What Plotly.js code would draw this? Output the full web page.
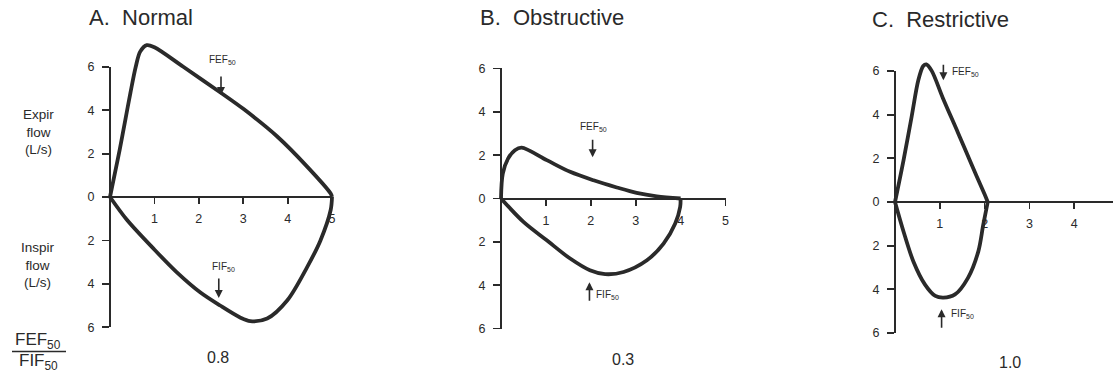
<!DOCTYPE html>
<html>
<head>
<meta charset="utf-8">
<script src="https://cdn.plot.ly/plotly-3.0.1.min.js"></script>
<style>
  html, body { margin: 0; padding: 0; background: #ffffff; }
  #chart { width: 1113px; height: 372px; }
</style>
</head>
<body>
<div id="chart"></div>
<script>
// ---------------- DATA (volume in L, flow in L/s) ----------------
// A. Normal
const normalExpVol   = [0, 0.1, 0.22, 0.34, 0.46, 0.58, 0.68, 0.83, 1.0, 1.65, 2.52, 3.01, 3.76, 4.44, 4.97, 5.0];
const normalExpFlow  = [0, 1.0, 2.2, 3.5, 4.8, 6.0, 6.7, 7.0, 6.9, 6.0, 4.77, 4.05, 2.8, 1.4, 0.16, 0];
const normalInspVol  = [0, 0.38, 0.98, 1.5, 2.03, 2.48, 2.93, 3.16, 3.54, 3.99, 4.44, 4.74, 4.97, 5.0];
const normalInspFlow = [0, 1.05, 2.38, 3.46, 4.39, 5.0, 5.55, 5.72, 5.6, 4.77, 3.23, 2.0, 0.6, 0];
// B. Obstructive
const obstrExpVol    = [0, 0.04, 0.16, 0.31, 0.46, 1.02, 1.54, 2.06, 2.58, 3.02, 3.47, 4.0];
const obstrExpFlow   = [0, 1.15, 1.85, 2.23, 2.35, 1.77, 1.23, 0.84, 0.51, 0.26, 0.1, 0];
const obstrInspVol   = [0, 0.5, 1.02, 1.54, 1.98, 2.32, 2.73, 3.25, 3.62, 3.88, 3.99, 4.0];
const obstrInspFlow  = [0, 1.08, 1.93, 2.77, 3.31, 3.49, 3.39, 2.85, 2.08, 1.15, 0.39, 0];
// C. Restrictive
const restrExpVol    = [0, 0.19, 0.37, 0.52, 0.63, 0.7, 0.82, 1.07, 1.41, 1.7, 2.0, 2.07];
const restrExpFlow   = [0, 1.91, 3.89, 5.57, 6.22, 6.3, 6.0, 4.75, 3.15, 1.76, 0.35, 0];
const restrInspVol   = [0, 0.19, 0.41, 0.67, 0.9, 1.08, 1.34, 1.63, 1.86, 1.97, 2.07];
const restrInspFlow  = [0, 1.35, 2.72, 3.78, 4.3, 4.38, 4.23, 3.47, 2.26, 1.04, 0];

// FEF50 / FIF50 markers: [volume, flow]
const fef50 = { A: [2.5, 4.7],  B: [2.04, 1.9], C: [1.08, 5.57] };
const fif50 = { A: [2.45, 4.65], B: [1.97, 3.86], C: [1.04, 4.91] };

const panelTitles = ['A.\u00a0\u00a0Normal', 'B.\u00a0\u00a0Obstructive', 'C.\u00a0\u00a0Restrictive'];
const ratioValues = ['0.8', '0.3', '1.0'];
const yTickVals  = [-6, -4, -2, 0, 2, 4, 6];
const yTickText  = ['6', '4', '2', '0', '2', '4', '6'];
const xTickVals  = [1, 2, 3, 4, 5];

// ---------------- LAYOUT HELPERS ----------------
const W = 1113, H = 372;
const INK = '#2a2a2a';
const FONT = 'Liberation Sans, Arial, Helvetica, sans-serif';
const neg = a => a.map(v => -v);
const px = x => x / W;
const py = y => 1 - y / H;

// panel geometry in pixels: origin, px per unit, visible x max
const geo = [
  { ox: 110, oy: 197,   sx: 44.4, sy: 21.7,  xmax: 5 },
  { ox: 501, oy: 198.5, sx: 44.9, sy: 21.67, xmax: 5 },
  { ox: 895, oy: 202,   sx: 44.8, sy: 21.85, xmax: (W - 895) / 44.8 }
];

const layout = {
  width: W, height: H,
  margin: { l: 0, r: 0, t: 0, b: 0 },
  paper_bgcolor: '#ffffff',
  plot_bgcolor: 'rgba(0,0,0,0)',
  showlegend: false,
  font: { family: FONT, color: INK },
  annotations: [],
  shapes: []
};

geo.forEach((g, i) => {
  const vis = 2 * i + 1, dat = 2 * i + 2;
  const vx = vis === 1 ? 'xaxis' : 'xaxis' + vis;
  const vy = vis === 1 ? 'yaxis' : 'yaxis' + vis;
  const xEnd = g.ox + g.xmax * g.sx;
  layout[vx] = {
    domain: [px(g.ox), Math.min(1, px(xEnd))],
    range: [0, g.xmax],
    anchor: 'free', position: py(g.oy),
    showline: true, linecolor: INK, linewidth: 2,
    ticks: 'outside', ticklen: 6, tickwidth: 1.8, tickcolor: INK,
    tickmode: 'array', tickvals: xTickVals.filter(v => v <= g.xmax + 1e-9),
    ticktext: xTickVals.filter(v => v <= g.xmax + 1e-9).map(String),
    ticklabelstandoff: 4,
    showgrid: false, zeroline: false, fixedrange: true,
    tickfont: { family: FONT, size: 12.5, color: INK }
  };
  layout[vy] = {
    domain: [py(g.oy + 6 * g.sy), py(g.oy - 6 * g.sy)],
    range: [-6, 6],
    anchor: 'free', position: px(g.ox),
    showline: true, linecolor: INK, linewidth: 2,
    ticks: 'outside', ticklen: 7, tickwidth: 1.8, tickcolor: INK,
    tickmode: 'array', tickvals: yTickVals, ticktext: yTickText,
    ticklabelstandoff: 5,
    showgrid: false, zeroline: false, fixedrange: true,
    tickfont: { family: FONT, size: 12.5, color: INK }
  };
  // hidden data axes sharing the same scale
  const pxL = Math.max(0, g.ox - 30), pxR = Math.min(W, xEnd + 30);
  const pyT = g.oy - 8 * g.sy, pyB = g.oy + 7 * g.sy;
  layout['xaxis' + dat] = {
    domain: [px(pxL), px(pxR)],
    range: [(pxL - g.ox) / g.sx, (pxR - g.ox) / g.sx],
    anchor: 'y' + dat, visible: false, fixedrange: true
  };
  layout['yaxis' + dat] = {
    domain: [py(pyB), py(pyT)],
    range: [-(pyB - g.oy) / g.sy, (g.oy - pyT) / g.sy],
    anchor: 'x' + dat, visible: false, fixedrange: true
  };
});

// ---------------- TRACES ----------------
const lineStyle = { color: INK, width: 3.8, shape: 'spline', smoothing: 0.9 };
const curves = [
  [normalExpVol, normalExpFlow, normalInspVol, normalInspFlow],
  [obstrExpVol, obstrExpFlow, obstrInspVol, obstrInspFlow],
  [restrExpVol, restrExpFlow, restrInspVol, restrInspFlow]
];
const data = [];
curves.forEach((c, i) => {
  const vis = 2 * i + 1, dat = 2 * i + 2;
  data.push({ type: 'scatter', x: [], y: [], xaxis: 'x' + (vis === 1 ? '' : vis), yaxis: 'y' + (vis === 1 ? '' : vis), hoverinfo: 'skip' });
  data.push({ type: 'scatter', mode: 'lines', x: c[0], y: c[1], xaxis: 'x' + dat, yaxis: 'y' + dat, line: lineStyle, hoverinfo: 'skip' });
  data.push({ type: 'scatter', mode: 'lines', x: c[2], y: neg(c[3]), xaxis: 'x' + dat, yaxis: 'y' + dat, line: lineStyle, hoverinfo: 'skip' });
});

// ---------------- ANNOTATIONS ----------------
const A = layout.annotations;
// panel titles
[[87, 17.5], [478, 17.5], [870, 20]].forEach((p, i) => {
  A.push({ xref: 'paper', yref: 'paper', x: px(p[0]), y: py(p[1]), xanchor: 'left', yanchor: 'middle',
           text: panelTitles[i], showarrow: false, font: { size: 22, color: INK, family: FONT } });
});
// ratio values
[[218, 357], [623, 359], [1010, 362]].forEach((p, i) => {
  A.push({ xref: 'paper', yref: 'paper', x: px(p[0]), y: py(p[1]), xanchor: 'center', yanchor: 'middle',
           text: ratioValues[i], showarrow: false, font: { size: 16, color: INK, family: FONT } });
});
// y-axis side labels
A.push({ xref: 'paper', yref: 'paper', x: px(38), y: py(132), xanchor: 'center', yanchor: 'middle',
         text: 'Expir<br>flow<br>(L/s)', showarrow: false, font: { size: 13.5, color: INK, family: FONT } });
A.push({ xref: 'paper', yref: 'paper', x: px(38), y: py(265), xanchor: 'center', yanchor: 'middle',
         text: 'Inspir<br>flow<br>(L/s)', showarrow: false, font: { size: 13.5, color: INK, family: FONT } });
// ratio label (fraction)
A.push({ xref: 'paper', yref: 'paper', x: px(38), y: py(341), xanchor: 'center', yanchor: 'middle',
         text: 'FEF<sub>50</sub>', showarrow: false, font: { size: 17, color: INK, family: FONT } });
A.push({ xref: 'paper', yref: 'paper', x: px(38), y: py(362), xanchor: 'center', yanchor: 'middle',
         text: 'FIF<sub>50</sub>', showarrow: false, font: { size: 17, color: INK, family: FONT } });
layout.shapes.push({ type: 'line', xref: 'paper', yref: 'paper', x0: px(12), x1: px(66), y0: py(351.5), y1: py(351.5),
                     line: { color: INK, width: 1.5 } });

// FEF50 / FIF50 arrows and labels
const small = { size: 10, color: INK, family: FONT };
const arrow = (ax, ayAxis, tip, ay) => ({
  xref: ax, yref: ayAxis, x: tip[0], y: tip[1], ax: 0, ay: ay, text: '', showarrow: true,
  arrowhead: 2, arrowsize: 1, arrowwidth: 1.6, arrowcolor: INK, standoff: 0, startstandoff: 0
});
const lbl = (ax, ayAxis, tip, text, xanchor, xshift, yshift) => ({
  xref: ax, yref: ayAxis, x: tip[0], y: tip[1], text: text, showarrow: false,
  xanchor: xanchor, yanchor: 'middle', xshift: xshift, yshift: yshift, font: small
});
// A
A.push(arrow('x2', 'y2', fef50.A, -20));
A.push(lbl('x2', 'y2', fef50.A, 'FEF<sub>50</sub>', 'center', 1, 35));
A.push(arrow('x2', 'y2', [fif50.A[0], -fif50.A[1]], -21));
A.push(lbl('x2', 'y2', [fif50.A[0], -fif50.A[1]], 'FIF<sub>50</sub>', 'center', 5, 31));
// B
A.push(arrow('x4', 'y4', fef50.B, -19));
A.push(lbl('x4', 'y4', fef50.B, 'FEF<sub>50</sub>', 'center', 1, 30));
A.push(arrow('x4', 'y4', [fif50.B[0], -fif50.B[1]], 20));
A.push(lbl('x4', 'y4', [fif50.B[0], -fif50.B[1]], 'FIF<sub>50</sub>', 'left', 5, -13));
// C
A.push(arrow('x6', 'y6', fef50.C, -17));
A.push(lbl('x6', 'y6', fef50.C, 'FEF<sub>50</sub>', 'left', 7, 8));
A.push(arrow('x6', 'y6', [fif50.C[0], -fif50.C[1]], 20));
A.push(lbl('x6', 'y6', [fif50.C[0], -fif50.C[1]], 'FIF<sub>50</sub>', 'left', 7, -5));

Plotly.newPlot('chart', data, layout, { staticPlot: true, displayModeBar: false });
</script>
</body>
</html>
